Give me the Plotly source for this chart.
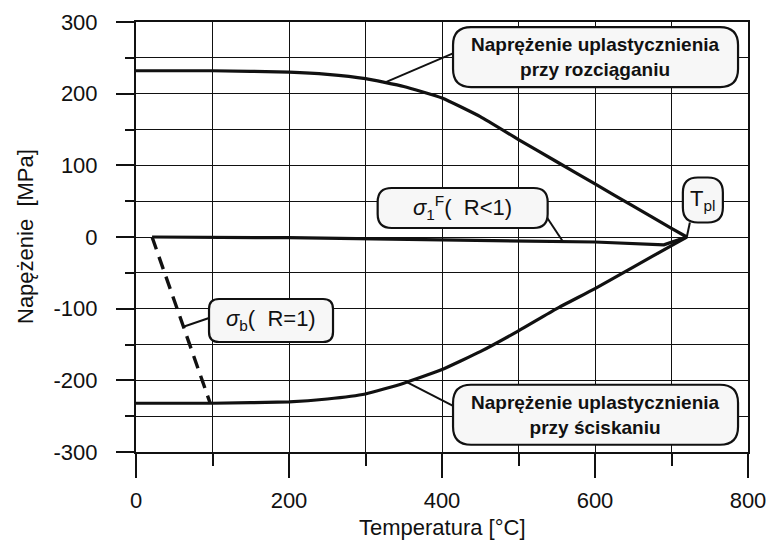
import numpy as np
import plotly.graph_objects as go

# Temperature grid [°C] and yield stress in tension / compression [MPa]
temp_yield = [0, 100, 200, 250, 300, 350, 400, 450, 500, 550, 600, 650, 700, 720]
yield_tension = [232, 232, 230, 227, 221, 210, 194, 168, 136, 105, 74, 43, 12, 0]
yield_compression = [-232, -232, -230, -226, -219, -204, -185, -160, -131, -100, -72, -42, -12, 0]

# Residual stress for R<1
temp_sigma1 = [21, 200, 400, 600, 690, 720]
sigma1_F = [0, -1, -4, -7, -11, 0]

# Stress for R=1 (dashed)
temp_sigmab = [21, 97]
sigma_b = [0, -232]

# Plastic temperature point
T_pl = 720

# Axis tick labels
x_ticks = [0, 200, 400, 600, 800]
y_ticks = [-300, -200, -100, 0, 100, 200, 300]
y_tick_labels = ["-300", "-200", "-100", "0", "100", "200", "300"]

# Figure frame (pixels)
W, H = 771, 540
ML, MR, MT, MB = 136, 23, 22, 88
X_RANGE = [0, 800]
Y_RANGE = [-300, 300]
PX_X = (W - ML - MR) / (X_RANGE[1] - X_RANGE[0])
PX_Y = (H - MT - MB) / (Y_RANGE[1] - Y_RANGE[0])
PLOT_H = H - MT - MB

FONT = "Liberation Sans, Arial, sans-serif"
INK = "#111111"

fig = go.Figure()

line_style = dict(color=INK, width=3.2)
fig.add_trace(go.Scatter(x=temp_yield, y=yield_tension, mode="lines",
                         line=dict(**line_style, shape="spline", smoothing=0.4),
                         hoverinfo="skip", showlegend=False))
fig.add_trace(go.Scatter(x=temp_yield, y=yield_compression, mode="lines",
                         line=dict(**line_style, shape="spline", smoothing=0.4),
                         hoverinfo="skip", showlegend=False))
fig.add_trace(go.Scatter(x=temp_sigma1, y=sigma1_F, mode="lines",
                         line=dict(color=INK, width=3.2),
                         hoverinfo="skip", showlegend=False))
fig.add_trace(go.Scatter(x=temp_sigmab, y=sigma_b, mode="lines",
                         line=dict(color=INK, width=3.4, dash="13px,8px"),
                         hoverinfo="skip", showlegend=False))


def rounded_box(cx, cy, w_px, h_px, r_px):
    """Rounded rectangle path in data units, centred on (cx, cy)."""
    hw, hh = w_px / 2 / PX_X, h_px / 2 / PX_Y
    rx, ry = r_px / PX_X, r_px / PX_Y
    x0, x1, y0, y1 = cx - hw, cx + hw, cy - hh, cy + hh
    return (f"M {x0 + rx},{y1} L {x1 - rx},{y1} Q {x1},{y1} {x1},{y1 - ry} "
            f"L {x1},{y0 + ry} Q {x1},{y0} {x1 - rx},{y0} "
            f"L {x0 + rx},{y0} Q {x0},{y0} {x0},{y0 + ry} "
            f"L {x0},{y1 - ry} Q {x0},{y1} {x0 + rx},{y1} Z")


# Callouts: centre (data), size (px), corner radius (px), leader attach offset (px),
# leader target on a curve (data), text, font size, bold
callouts = [
    dict(c=(600.7, 251), size=(285, 60), r=18, attach=(-142, 4),
         target=(325, float(np.interp(325, temp_yield, yield_tension))),
         text="Naprężenie uplastycznienia<br>przy rozciąganiu", fs=19, bold=True),
    dict(c=(600.7, -248), size=(285, 60), r=18, attach=(-141, 8),
         target=(354, float(np.interp(354, temp_yield, yield_compression))),
         text="Naprężenie uplastycznienia<br>przy ściskaniu", fs=19, bold=True),
    dict(c=(427, 40.5), size=(170, 40), r=14, attach=(84, -9),
         target=(558, float(np.interp(558, temp_sigma1, sigma1_F))),
         text="<i>σ</i><sub>1</sub><sup>F</sup>(  R&lt;1)", fs=22, bold=False),
    dict(c=(741, 51.6), size=(40, 45), r=15, attach=(-13, -22.5),
         target=(T_pl, 0),
         text="T<sub>pl</sub>", fs=22, bold=False),
    dict(c=(176.5, -116.5), size=(124, 43), r=10, attach=(-62, 2.5),
         target=(62, float(np.interp(62, temp_sigmab, sigma_b))),
         text="<i>σ</i><sub>b</sub>(  R=1)", fs=22, bold=False),
]

shapes = []
annotations = []
for co in callouts:
    cx, cy = co["c"]
    ax_, ay_ = cx + co["attach"][0] / PX_X, cy + co["attach"][1] / PX_Y
    shapes.append(dict(type="line", xref="x", yref="y",
                       x0=co["target"][0], y0=co["target"][1], x1=ax_, y1=ay_,
                       line=dict(color=INK, width=2), layer="above"))
    shapes.append(dict(type="path", xref="x", yref="y",
                       path=rounded_box(cx, cy, co["size"][0], co["size"][1], co["r"]),
                       fillcolor="#f7f7f7", line=dict(color=INK, width=2.2), layer="above"))
    txt = f"<b>{co['text']}</b>" if co["bold"] else co["text"]
    annotations.append(dict(x=cx, y=cy, xref="x", yref="y", text=txt, showarrow=False,
                            xanchor="center", yanchor="middle", align="center",
                            font=dict(family=FONT, size=co["fs"], color=INK)))

# Axis titles
annotations.append(dict(x=0.5, y=-75 / PLOT_H, xref="paper", yref="paper",
                        text="Temperatura [°C]", showarrow=False,
                        xanchor="center", yanchor="middle",
                        font=dict(family=FONT, size=22, color=INK)))
annotations.append(dict(x=-111 / (W - ML - MR), y=0.5, xref="paper", yref="paper",
                        text="Napężenie  [MPa]", showarrow=False, textangle=-90,
                        xanchor="center", yanchor="middle",
                        font=dict(family=FONT, size=22, color=INK)))

axis_common = dict(
    showline=True, linecolor=INK, linewidth=2, mirror=True,
    ticks="outside", tickcolor=INK, tickwidth=2,
    showgrid=True, gridcolor=INK, gridwidth=1.4,
    zeroline=False, automargin=False,
    tickfont=dict(family=FONT, size=22, color=INK),
)

fig.update_layout(
    width=W, height=H,
    margin=dict(l=ML, r=MR, t=MT, b=MB, pad=0),
    paper_bgcolor="white", plot_bgcolor="white",
    xaxis=dict(**axis_common, range=X_RANGE, tickmode="array", tickvals=x_ticks,
               ticklen=24, ticklabelstandoff=4,
               minor=dict(dtick=100, tick0=0, ticks="outside", ticklen=12, tickwidth=2,
                          tickcolor=INK, showgrid=True, gridcolor=INK, gridwidth=1.4)),
    yaxis=dict(**axis_common, range=Y_RANGE, tickmode="array", tickvals=y_ticks,
               ticktext=y_tick_labels, ticklen=18, ticklabelstandoff=14,
               minor=dict(dtick=50, tick0=0, ticks="outside", ticklen=9, tickwidth=2,
                          tickcolor=INK, showgrid=True, gridcolor=INK, gridwidth=1.4)),
    shapes=shapes,
    annotations=annotations,
    showlegend=False,
)

fig.write_html("out.html")
